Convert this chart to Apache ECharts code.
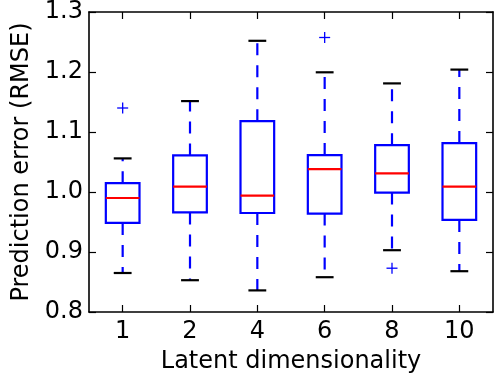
<!DOCTYPE html>
<html>
<head>
<meta charset="utf-8">
<script src="https://cdn.jsdelivr.net/npm/echarts@6/dist/echarts.min.js"></script>
<style>
html,body{margin:0;padding:0;background:#fff;}
#chart{width:495px;height:379px;}
</style>
</head>
<body>
<div id="chart"></div>
<script>
var categories = ['1', '2', '4', '6', '8', '10'];
var lowerWhisker = [0.865, 0.853, 0.836, 0.858, 0.903, 0.868];
var q1 = [0.9485, 0.966, 0.965, 0.964, 0.999, 0.9535];
var median = [0.990, 1.009, 0.994, 1.038, 1.031, 1.009];
var q3 = [1.0147, 1.061, 1.118, 1.0616, 1.078, 1.0815];
var upperWhisker = [1.056, 1.1515, 1.252, 1.1995, 1.181, 1.204];
var outlierIndex = [0, 3, 4];
var outlierValue = [1.140, 1.2575, 0.873];
var yTicks = [0.8, 0.9, 1.0, 1.1, 1.2, 1.3];

var FONT = 'DejaVu Sans';
var FS = 24;
var boxData = categories.map(function (c, i) {
  return [i, lowerWhisker[i], q1[i], median[i], q3[i], upperWhisker[i]];
});
var outlierData = outlierIndex.map(function (idx, i) { return [idx, outlierValue[i]]; });

var chart = echarts.init(document.getElementById('chart'), null, {renderer: 'canvas'});

function renderBox(params, api) {
  var idx = api.value(0);
  var x = api.coord([idx, 0])[0];
  var bw = api.size([1, 0])[0] * 0.5;
  var yLo = api.coord([idx, api.value(1)])[1];
  var yQ1 = api.coord([idx, api.value(2)])[1];
  var yMed = api.coord([idx, api.value(3)])[1];
  var yQ3 = api.coord([idx, api.value(4)])[1];
  var yHi = api.coord([idx, api.value(5)])[1];
  var blue = '#0000ff';
  var dash = [12, 10];
  return {
    type: 'group',
    children: [
      {type: 'line', shape: {x1: x, y1: yQ3, x2: x, y2: yHi}, style: {stroke: blue, lineWidth: 2.2, lineDash: dash}},
      {type: 'line', shape: {x1: x, y1: yQ1, x2: x, y2: yLo}, style: {stroke: blue, lineWidth: 2.2, lineDash: dash}},
      {type: 'line', shape: {x1: x - bw / 4 - 0.5, y1: yHi, x2: x + bw / 4 + 0.5, y2: yHi}, style: {stroke: '#000', lineWidth: 2.2}},
      {type: 'line', shape: {x1: x - bw / 4 - 0.5, y1: yLo, x2: x + bw / 4 + 0.5, y2: yLo}, style: {stroke: '#000', lineWidth: 2.2}},
      {type: 'rect', shape: {x: x - bw / 2, y: yQ3, width: bw, height: yQ1 - yQ3}, style: {fill: 'none', stroke: blue, lineWidth: 2.2}},
      {type: 'line', shape: {x1: x - bw / 2, y1: yMed, x2: x + bw / 2, y2: yMed}, style: {stroke: '#ff0000', lineWidth: 2.2}}
    ]
  };
}

function renderFlier(params, api) {
  var p = api.coord([api.value(0), api.value(1)]);
  var s = 5.5;
  var style = {stroke: '#0000ff', lineWidth: 1.3};
  return {
    type: 'group',
    children: [
      {type: 'line', shape: {x1: p[0] - s, y1: p[1], x2: p[0] + s, y2: p[1]}, style: style},
      {type: 'line', shape: {x1: p[0], y1: p[1] - s, x2: p[0], y2: p[1] + s}, style: style}
    ]
  };
}

var axisLine = {show: true, onZero: false, lineStyle: {color: '#000', width: 1.6}};
var tick = {show: true, inside: true, length: 7, lineStyle: {color: '#000', width: 1.2}};

chart.setOption({
  animation: false,
  backgroundColor: '#fff',
  grid: {left: 89, right: 2, top: 10, bottom: 67, containLabel: false},
  xAxis: [{
    type: 'category', data: categories, position: 'bottom', boundaryGap: true,
    axisLine: axisLine,
    axisTick: Object.assign({alignWithLabel: true}, tick),
    axisLabel: {color: '#000', fontSize: FS, fontFamily: FONT, margin: 8},
    splitLine: {show: false},
    name: 'Latent dimensionality', nameLocation: 'middle', nameGap: 38,
    nameTextStyle: {color: '#000', fontSize: FS, fontFamily: FONT}
  }, {
    type: 'category', data: categories, position: 'top', boundaryGap: true,
    axisLine: axisLine,
    axisTick: Object.assign({alignWithLabel: true}, tick),
    axisLabel: {show: false}, splitLine: {show: false}
  }],
  yAxis: [{
    type: 'value', min: 0.8, max: 1.3, interval: 0.1, position: 'left',
    axisLine: axisLine, axisTick: tick,
    axisLabel: {color: '#000', fontSize: FS, fontFamily: FONT, margin: 6,
      formatter: function (v) { return v.toFixed(1); }},
    splitLine: {show: false},
    name: 'Prediction error (RMSE)', nameLocation: 'middle', nameGap: 52, nameRotate: 90,
    nameTextStyle: {color: '#000', fontSize: FS, fontFamily: FONT}
  }, {
    type: 'value', min: 0.8, max: 1.3, interval: 0.1, position: 'right',
    axisLine: axisLine, axisTick: tick,
    axisLabel: {show: false}, splitLine: {show: false}
  }],
  series: [{
    type: 'custom', name: 'box', xAxisIndex: 0, yAxisIndex: 0,
    renderItem: renderBox, data: boxData,
    encode: {x: 0, y: [1, 2, 3, 4, 5]}
  }, {
    type: 'custom', name: 'outliers', xAxisIndex: 0, yAxisIndex: 0,
    renderItem: renderFlier, data: outlierData,
    encode: {x: 0, y: 1}
  }]
});
</script>
</body>
</html>
